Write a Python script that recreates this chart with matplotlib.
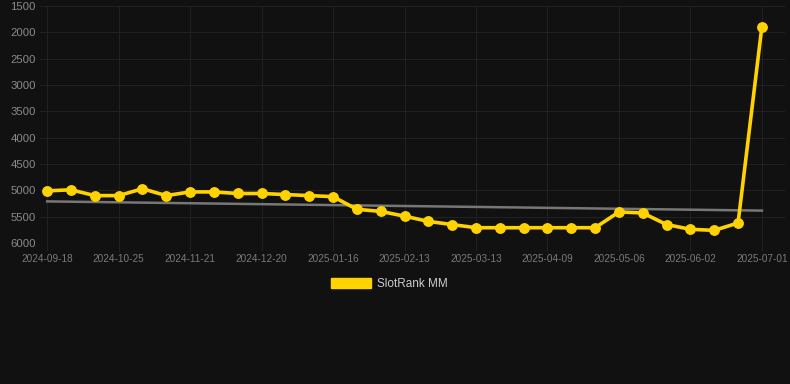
import matplotlib
matplotlib.use("Agg")
import matplotlib.pyplot as plt
from matplotlib.patches import Patch

# category axis: point index 0 .. 30, labelled every third one
tick_labels = ["2024-09-18", "2024-10-25", "2024-11-21", "2024-12-20", "2025-01-16",
               "2025-02-13", "2025-03-13", "2025-04-09", "2025-05-06", "2025-06-02",
               "2025-07-01"]
values = [5010, 4990, 5100, 5100, 4970, 5100, 5030, 5030, 5060, 5060,
          5080, 5100, 5120, 5360, 5400, 5490, 5590, 5650, 5710, 5710,
          5710, 5710, 5710, 5710, 5410, 5430, 5650, 5740, 5760, 5620,
          1890]
trend_values = [5210, 5385]
series_name = "SlotRank MM"

BG = "#111111"
YELLOW = "#FFD200"

fig = plt.figure(figsize=(7.9, 3.84), dpi=100, facecolor=BG)
ax = fig.add_axes([40 / 790, 1 - 243 / 384, (785 - 40) / 790, (243 - 6) / 384])
ax.set_facecolor(BG)

x = list(range(len(values)))
ax.plot([x[0], x[-1]], trend_values, color="#777777", lw=1.8, zorder=2)
ax.plot(x, values, color=YELLOW, lw=2.6, marker="o", markersize=6.8,
        markerfacecolor=YELLOW, markeredgecolor=YELLOW, zorder=3)

ax.set_ylim(6000, 1500)
ax.set_yticks(range(1500, 6001, 500))
ax.set_xlim(-0.3, 30.97)
ax.set_xticks(list(range(0, len(values), 3)))
ax.set_xticklabels(tick_labels)

ax.grid(True, color="#212121", lw=0.8)
for s in ax.spines.values():
    s.set_visible(False)
ax.tick_params(axis="y", length=0, pad=3, labelsize=8.2, labelcolor="#8a8a8a")
ax.tick_params(axis="x", length=6, color="#212121", pad=2, labelsize=7.2,
               labelcolor="#7a7a7a")
for lab in ax.get_xticklabels() + ax.get_yticklabels():
    lab.set_family("Liberation Sans")

fig.legend(handles=[Patch(facecolor=YELLOW, edgecolor=YELLOW, label=series_name)],
           loc="center", bbox_to_anchor=(389 / 790, 1 - 284 / 384),
           frameon=False, handlelength=3.4, handleheight=1.0, handletextpad=0.5,
           prop={"family": "Liberation Sans", "size": 8.5}, labelcolor="#cccccc")

fig.savefig("out.png", dpi=100, facecolor=BG)
